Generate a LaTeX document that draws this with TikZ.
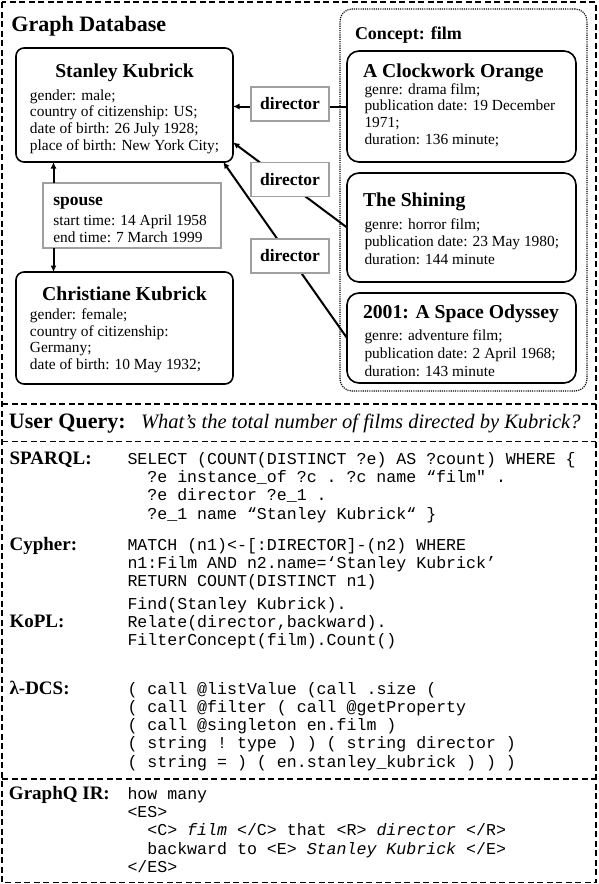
\documentclass[tikz,border=0pt]{standalone}
\usepackage{fontspec}
\setmainfont{Liberation Serif}
\setmonofont{Liberation Mono}
\usetikzlibrary{arrows.meta,calc}
\definecolor{labgray}{HTML}{A0A0A0}
\newcommand\fsz[2]{\fontsize{#1}{#2}\selectfont}
\tikzset{
  every node/.style={inner sep=0pt, outer sep=0pt},
  outerbox/.style={draw, line width=1.4pt, dash pattern=on 6pt off 3.5pt},
  entbox/.style={draw, line width=1.6pt, rounded corners=8pt, anchor=north west},
  filmbox/.style={draw, line width=1.6pt, rounded corners=12pt, anchor=north west},
  conceptbox/.style={draw, line width=1.2pt, dash pattern=on 1.1pt off 1.1pt, rounded corners=12pt, anchor=north west},
  graybox/.style={draw=labgray, line width=1.8pt, fill=white},
  dirbox/.style={graybox, minimum width=78pt, minimum height=34pt, font=\fsz{17.5}{20}\bfseries},
  ttl/.style={font=\fsz{19.7}{22}\bfseries, anchor=base west},
  ttlc/.style={font=\fsz{19.7}{22}\bfseries, anchor=base},
  bd/.style={font=\fsz{15.4}{17}, anchor=base west},
  codetxt/.style={font=\fsz{16.6}{18}\ttfamily, anchor=base west},
  lab/.style={font=\fsz{19}{22}\bfseries, anchor=base west},
  arr/.style={line width=2pt, -{Latex[length=6.5pt,width=6pt]}},
}
\begin{document}
\begin{tikzpicture}[x=1pt,y=-1pt]
\useasboundingbox (0,0) rectangle (598,884);
% outer frames
\draw[outerbox] (2,2) rectangle (596,882.5);
\draw[outerbox] (2,404) -- (596,404);
\draw[outerbox] (2,441.5) -- (596,441.5);
\draw[outerbox] (2,779) -- (596,779);

\node[font=\fsz{22}{24}\bfseries, anchor=base west] (gdb) at (11.5,31.7) {Graph Database};

% concept box
\node[conceptbox, minimum width=247pt, minimum height=382pt] (concept) at (340,9) {};
\node[font=\fsz{18}{20}\bfseries, anchor=base west] (concepttl) at (355,39.3) {Concept: film};

% entity boxes
\node[entbox, minimum width=217pt, minimum height=114pt] (stanley) at (16,48) {};
\node[ttlc] (st) at (124.5,77.3) {Stanley Kubrick};
\node[bd] (s1) at (30,100) {gender: male;};
\node[bd] (s2) at (30,116.7) {country of citizenship: US;};
\node[bd] (s3) at (30,133.4) {date of birth: 26 July 1928;};
\node[bd] (s4) at (30,150.1) {place of birth: New York City;};

\node[entbox, minimum width=217pt, minimum height=112pt] (christiane) at (16,272) {};
\node[ttlc] (ct) at (124.5,300) {Christiane Kubrick};
\node[bd] (c1) at (30,319.3) {gender: female;};
\node[bd] (c2) at (30,336) {country of citizenship:};
\node[bd] (c3) at (30,352.7) {Germany;};
\node[bd] (c4) at (30,369.4) {date of birth: 10 May 1932;};

% film boxes
\node[filmbox, minimum width=229pt, minimum height=111pt] (f1) at (347,51) {};
\node[ttl] (f1t) at (363,77.3) {A Clockwork Orange};
\node[bd] (f1a) at (364.5,94) {genre: drama film;};
\node[bd] (f1b) at (364.5,110.7) {publication date: 19 December};
\node[bd] (f1c) at (364.5,127.4) {1971;};
\node[bd] (f1d) at (364.5,144.1) {duration: 136 minute;};

\node[filmbox, minimum width=229pt, minimum height=109pt] (f2) at (347,173) {};
\node[ttl] (f2t) at (363,206.7) {The Shining};
\node[bd] (f2a) at (364.5,229) {genre: horror film;};
\node[bd] (f2b) at (364.5,246.5) {publication date: 23 May 1980;};
\node[bd] (f2c) at (364.5,264) {duration: 144 minute};

\node[filmbox, minimum width=229pt, minimum height=90pt] (f3) at (347,293) {};
\node[ttl] (f3t) at (363,318.3) {2001: A Space Odyssey};
\node[bd] (f3a) at (364.5,340) {genre: adventure film;};
\node[bd] (f3b) at (364.5,358) {publication date: 2 April 1968;};
\node[bd] (f3c) at (364.5,376) {duration: 143 minute};

% director connectors
\draw[arr] (f1.west) -- (stanley.east |- f1.west);
\draw[arr] (f2.west) -- (stanley.-19);
\draw[arr] (f3.west) -- (stanley.-30.3);
\node[dirbox] (d1) at (290,104) {director};
\node[dirbox] (d2) at (290,179.5) {director};
\node[dirbox] (d3) at (290,256) {director};

% spouse
\node[graybox, minimum width=178pt, minimum height=65pt, anchor=north west] (spouse) at (43,183) {};
\node[font=\fsz{17.5}{20}\bfseries, anchor=base west] (spt) at (53.3,205) {spouse};
\node[bd] (sp1) at (53.3,225.3) {start time: 14 April 1958};
\node[bd] (sp2) at (53.3,242) {end time: 7 March 1999};
\coordinate (spn) at ($(spouse.north west)+(10.5,0)$);
\coordinate (sps) at ($(spouse.south west)+(10.5,0)$);
\draw[arr] (spn) -- (spn |- stanley.south);
\draw[arr] (sps) -- (sps |- christiane.north);

% user query
\node[font=\fsz{22}{24}\bfseries, anchor=base west] (uq) at (9,428.3) {User Query:};
\node[font=\fsz{20.5}{24}\itshape, anchor=base west] (uqq) at (141,428.3) {What's the total number of films directed by Kubrick?};

% SPARQL
\node[lab] (lsp) at (9.6,464) {SPARQL:};
\node[codetxt] (q1) at (127.5,464) {SELECT (COUNT(DISTINCT ?e) AS ?count) WHERE \{};
\node[codetxt] (q2) at (147.4,482.4) {?e instance\_of ?c . ?c name “film" .};
\node[codetxt] (q3) at (147.4,500.8) {?e director ?e\_1 .};
\node[codetxt] (q4) at (147.4,519.2) {?e\_1 name “Stanley Kubrick“ \}};

% Cypher
\node[lab] (lcy) at (9.6,550) {Cypher:};
\node[codetxt] (y1) at (127.5,550) {MATCH (n1)<-[:DIRECTOR]-(n2) WHERE};
\node[codetxt] (y2) at (127.5,568.4) {n1:Film AND n2.name=‘Stanley Kubrick’};
\node[codetxt] (y3) at (127.5,586.8) {RETURN COUNT(DISTINCT n1)};

% KoPL
\node[lab] (lko) at (9.6,627) {KoPL:};
\node[codetxt] (k1) at (127.5,609) {Find(Stanley Kubrick).};
\node[codetxt] (k2) at (127.5,627.4) {Relate(director,backward).};
\node[codetxt] (k3) at (127.5,645.8) {FilterConcept(film).Count()};

% lambda-DCS
\node[lab] (lla) at (9.6,694) {λ-DCS:};
\node[codetxt] (l1) at (127.5,694) {( call @listValue (call .size (};
\node[codetxt] (l2) at (127.5,712.3) {( call @filter ( call @getProperty};
\node[codetxt] (l3) at (127.5,730.6) {( call @singleton en.film )};
\node[codetxt] (l4) at (127.5,748.9) {( string ! type ) ) ( string director )};
\node[codetxt] (l5) at (127.5,767.2) {( string = ) ( en.stanley\_kubrick ) ) )};

% GraphQ IR
\node[lab] (lgq) at (9,799.3) {GraphQ IR:};
\node[codetxt] (g1) at (127.5,799.3) {how many};
\node[codetxt] (g2) at (127.5,817.6) {<ES>};
\node[codetxt] (g3) at (147.4,835.9) {<C> \textit{film} </C> that <R> \textit{director} </R>};
\node[codetxt] (g4) at (147.4,854.2) {backward to <E> \textit{Stanley Kubrick} </E>};
\node[codetxt] (g5) at (127.5,872.5) {</ES>};
\end{tikzpicture}
\end{document}
